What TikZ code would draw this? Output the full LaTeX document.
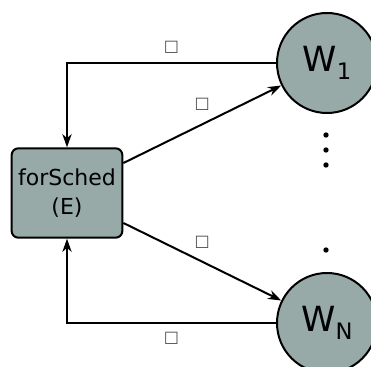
\documentclass[tikz,border=0pt]{standalone}
\usepackage{fontspec}
\setmainfont{DejaVu Sans}
\usetikzlibrary{arrows.meta}
\definecolor{nodegray}{RGB}{151,170,167}

\begin{document}
\begin{tikzpicture}[x=0.75pt,y=-0.75pt,
    proc/.style={draw,line width=1.5pt,fill=nodegray,rounded corners=5pt,
      minimum width=83pt,minimum height=67pt,align=center,
      font=\fontsize{16.5}{22}\selectfont},
    worker/.style={draw,circle,line width=1.5pt,fill=nodegray,
      minimum size=75pt,inner sep=0pt,font=\fontsize{26}{26}\selectfont},
    link/.style={line width=1.5pt,-{Stealth[length=10pt,width=7pt]}},
    msg/.style={text=black!70,font=\fontsize{12}{12}\selectfont}]
  \useasboundingbox (0,0) rectangle (371,367);

  \node[proc] (fs) at (67,193) {forSched\\(E)};
  \node[worker] (w1) at (327,63) {W\raisebox{-6pt}{\fontsize{17}{17}\selectfont 1}};
  \node[worker] (wn) at (327,323) {W\raisebox{-6pt}{\fontsize{17}{17}\selectfont N}};

  % feedback lines
  \draw[link] (w1.west) -| node[msg,pos=0.25,above=3pt] {□} (fs.north);
  \draw[link] (wn.west) -| node[msg,pos=0.25,below=3pt] {□} (fs.south);

  % jobs out
  \draw[link] (fs.28) -- node[msg,midway,above=6pt] {□} (w1);
  \draw[link] (fs.-28) -- node[msg,midway,above=6pt] {□} (wn);

  \fill (326,135) circle[radius=2.7];
  \fill (326,150) circle[radius=2.7];
  \fill (326,165) circle[radius=2.7];
  \fill (326,250) circle[radius=2.7];
\end{tikzpicture}
\end{document}
